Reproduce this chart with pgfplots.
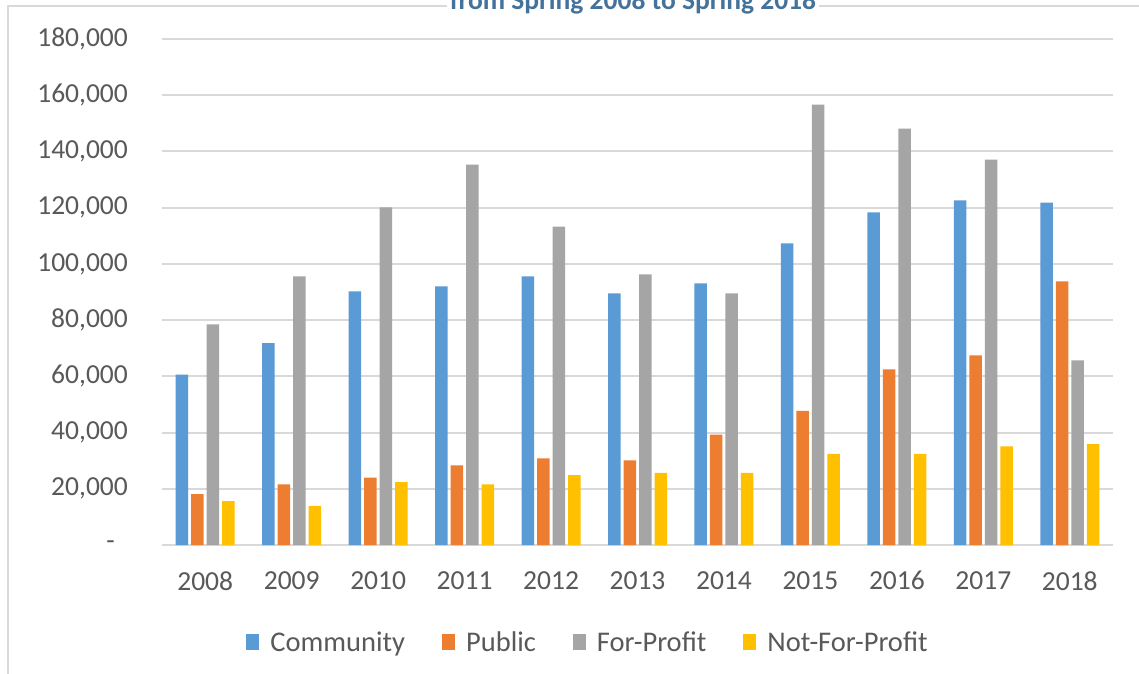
\documentclass[border=0pt]{standalone}
\usepackage{pgfplots}
\pgfplotsset{compat=1.18}
\usepackage{fontspec}
\setmainfont{Carlito}
\definecolor{cblue}{HTML}{5B9BD5}
\definecolor{corange}{HTML}{ED7D31}
\definecolor{cgray}{HTML}{A5A5A5}
\definecolor{cyellow}{HTML}{FFC000}
\definecolor{gridgray}{HTML}{D9D9D9}
\definecolor{ticktext}{HTML}{595959}
\definecolor{titleblue}{HTML}{44729A}
\begin{document}
\begin{tikzpicture}
\path[use as bounding box] (0,0) rectangle (1139pt,-673pt);
\clip (0,0) rectangle (1139pt,-673pt);
\fill[white] (0,0) rectangle (1139pt,-673pt);
\draw[gridgray, line width=1.3pt] (8pt,-690pt) -- (8pt,-6pt) -- (1150pt,-6pt);
\node[fill=white, inner xsep=3pt, inner ysep=1pt, anchor=base, text=titleblue,
  font=\fontsize{27.5}{33}\selectfont\bfseries] at (633pt,-9pt) {from Spring 2008 to Spring 2018};
\begin{axis}[
  at={(162pt,-545pt)}, anchor=south west,
  scale only axis, width=951pt, height=506pt,
  xmin=-0.5, xmax=10.5, ymin=0, ymax=180000,
  scaled y ticks=false,
  ybar=3pt, bar width=12.5pt,
  axis line style={draw=none},
  ymajorgrids, grid style={gridgray, line width=2pt},
  major tick length=0pt,
  xtick={0,...,10},
  xticklabels={2008,2009,2010,2011,2012,2013,2014,2015,2016,2017,2018},
  ytick={0,20000,40000,60000,80000,100000,120000,140000,160000,180000},
  yticklabels={{-\rule{13pt}{0pt}},{20,000},{40,000},{60,000},{80,000},{100,000},{120,000},{140,000},{160,000},{180,000}},
  tick label style={font=\fontsize{27.5}{33}\selectfont, text=ticktext},
  yticklabel style={anchor=east, inner sep=0pt, xshift=-34pt},
  xticklabel style={anchor=north, inner sep=0pt, yshift=-26pt},
  legend columns=4,
  legend style={at={(0.4480,-0.1917)}, anchor=center, draw=none, fill=none,
    font=\fontsize{28.5}{34}\selectfont, text=ticktext,
    /tikz/every even column/.append style={column sep=35pt}},
  legend image code/.code={\fill[#1] (0pt,-8pt) rectangle (13pt,8pt); \path (22pt,0pt);},
]
\addplot[fill=cblue, draw=none] coordinates {(0,60600) (1,71800) (2,90200) (3,92000) (4,95600) (5,89500) (6,93100) (7,107300) (8,118300) (9,122600) (10,121800)};
\addplot[fill=corange, draw=none] coordinates {(0,18100) (1,21600) (2,24000) (3,28300) (4,30800) (5,30100) (6,39300) (7,47700) (8,62500) (9,67500) (10,93800)};
\addplot[fill=cgray, draw=none] coordinates {(0,78500) (1,95600) (2,120100) (3,135300) (4,113300) (5,96300) (6,89500) (7,156700) (8,148100) (9,137100) (10,65700)};
\addplot[fill=cyellow, draw=none] coordinates {(0,15600) (1,13900) (2,22400) (3,21600) (4,24900) (5,25700) (6,25700) (7,32400) (8,32400) (9,35100) (10,35900)};
\legend{Community,Public,For-Profit,Not-For-Profit}
\end{axis}
\end{tikzpicture}
\end{document}
